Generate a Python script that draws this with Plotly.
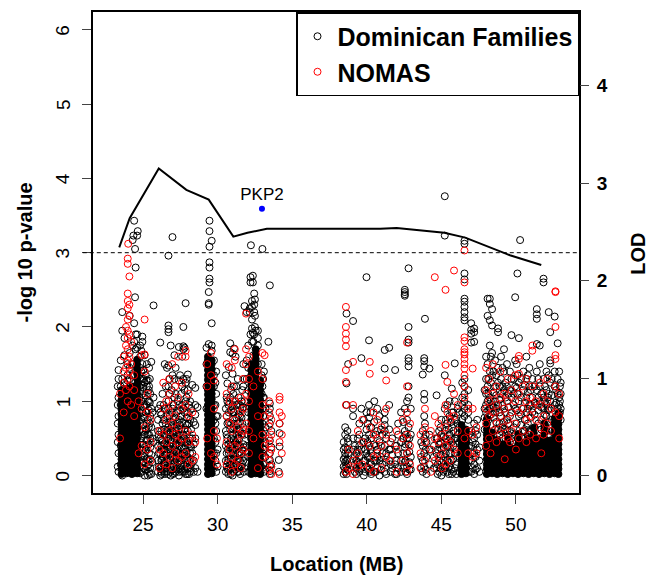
import plotly.graph_objects as go

# ---------------- data (x = location in MB, y = -log10 p) ----------------
DOM_COLS = [
    "23.3: 0.12 0.45 0.7 0.95 1.2",
    "23.35: 0.05 0.3 0.55 0.8 1.05 1.3 1.42", "23.5: 1.55 1.2 0.95 0.4 0.15",
    "23.6: 2.2 1.95 1.3 1.1 0.7 0.0", "23.75: 1.85 1.62 1.25", "23.95: 1.5 1.35 1.28",
    "24.1: 2.15 1.65 1.45 1.3", "24.3: 3.17 1.75 1.5 1.35", "24.35: 3.23", "24.4: 3.43 2.05 1.8",
    "24.46: 3.05 2.4", "24.5: 2.8 1.9 1.7", "24.6: 3.23 1.9 1.72", "24.64: 3.29",
    "24.75: 1.35 1.2 1.05 0.85 0.6 0.35 0.12",
    "24.8: 1.75 1.6 1.45 1.3 1.15 0.95 0.7 0.45 0.2 0.03",
    "24.88: 1.68 1.4 1.22 1.0 0.75 0.5 0.25 0.05",
    "24.95: 1.87 1.8 1.5 1.3 1.1 0.85 0.6 0.35 0.1",
    "25.02: 1.42 1.18 0.92 0.68 0.42 0.18", "25.05: 1.3 1.05 0.8 0.55 0.3 0.1",
    "25.1: 1.62 1.25 0.95 0.78 0.55 0.25 0.0",
    "25.18: 1.35 1.08 0.85 0.6 0.35 0.08", "25.22: 1.28 0.95 0.62 0.4 0.22",
    "25.25: 1.5 1.2 0.7 0.48 0.12", "25.32: 1.28 1.0 0.75 0.55 0.2 0.0",
    "25.38: 1.15 0.88 0.65 0.42 0.15",
    "25.4: 1.45 1.2 1.0 0.55 0.3 0.05", "25.45: 1.3 0.98 0.7 0.22 0.02",
    "25.48: 1.1 0.8 0.5 0.38 0.1",
    "25.55: 1.53 0.9 0.65 0.28 0.02", "25.62: 0.85 0.5 0.18", "25.7: 2.29 1.05 0.45",
    "26.0: 0.05 0.2 0.4 0.6 0.75", "26.05: 0.9 0.55 0.3 0.12",
    "26.15: 1.79 0.95 0.85 0.5 0.3 0.1 0.0", "26.22: 0.82 0.6 0.4 0.2 0.05",
    "26.25: 0.02 0.12 0.22 0.35 0.48",
    "26.3: 1.1 0.7 0.45 0.25 0.08", "26.38: 0.95 0.75 0.55 0.35 0.15",
    "26.42: 0.05 0.18 0.28 0.42 0.62",
    "26.45: 1.5 0.9 0.55 0.35 0.15 0.02", "26.52: 1.2 0.7 0.45 0.28 0.1",
    "26.58: 0.1 0.3 0.52",
    "26.6: 1.45 0.8 0.6 0.4 0.22 0.05", "26.68: 0.9 0.65 0.5 0.35 0.18 0.02",
    "26.7: 2.96 2.02 1.97 1.93 1.48 1.2 1.0", "26.78: 1.3 1.1 0.8 0.55 0.4",
    "26.82: 0.05 0.2 0.35 0.58",
    "26.85: 1.75 0.72 0.48 0.3 0.12 0.0", "26.92: 1.15 0.85 0.65 0.45 0.25 0.08",
    "26.97: 3.21 1.35 0.9 0.6", "27.0: 0.02 0.15 0.25 0.4 0.68",
    "27.05: 0.95 0.75 0.55 0.3 0.12",
    "27.1: 1.62 1.3 1.05 0.5 0.35 0.18 0.03", "27.18: 1.45 1.1 0.78 0.6 0.4 0.22 0.05",
    "27.22: 0.08 0.32 0.5",
    "27.25: 0.85 0.65 0.42 0.25 0.1", "27.32: 1.0 0.72 0.52 0.35 0.15",
    "27.4: 1.73 1.28 0.95 0.75 0.55 0.3 0.0", "27.42: 0.05 0.2 0.4 0.62",
    "27.48: 1.35 0.88 0.68 0.48 0.25 0.1",
    "27.55: 1.1 0.8 0.62 0.45 0.2 0.08", "27.58: 0.12 0.28 0.38",
    "27.62: 1.6 1.2 0.95 0.72 0.5 0.3 0.05",
    "27.7: 2.0 1.74 1.7 1.3 0.9 0.55 0.35 0.15", "27.75: 0.05 0.3 0.5",
    "27.78: 1.72 1.15 0.85 0.62 0.45 0.22 0.08",
    "27.85: 2.32 1.25 1.0 0.7 0.4 0.02", "27.92: 1.3 1.05 0.78 0.55 0.32 0.12",
    "27.95: 0.02 0.2 0.45 0.68",
    "28.0: 1.36 1.15 0.85 0.6 0.25 0.1", "28.08: 0.95 0.7 0.42 0.2 0.02",
    "28.15: 1.0 0.75 0.5 0.3 0.05", "28.18: 0.1 0.22 0.4",
    "28.22: 0.9 0.62 0.38 0.15", "28.3: 1.22 0.5 0.3",
    "28.4: 0.72 0.42 0.2 0.05", "28.5: 1.18 0.95 0.82 0.68 0.5 0.1", "28.65: 0.92 0.05",
    "29.25: 1.72 1.5 1.2 0.9", "29.4: 2.47 2.32 2.3 1.77",
    "29.45: 3.43 3.29 3.08 2.87 2.8 2.65 2.6", "29.6: 3.16 2.05 1.75 1.68",
    "29.75: 1.55 1.35 1.2 0.95 0.75 0.5 0.3 0.1", "29.85: 1.25 0.95 0.7 0.45 0.2",
    "29.9: 1.4 1.1 0.8 0.6 0.3 0.05", "30.0: 0.8 0.35 0.12",
    "30.55: 1.35 0.9 0.6 0.4 0.2 0.05", "30.6: 1.05 0.8 0.55 0.3 0.12",
    "30.65: 1.24 1.0 0.7 0.5", "30.68: 0.08 0.18 0.35",
    "30.72: 0.95 0.72 0.42 0.22 0.02", "30.75: 1.46 0.85 0.3 0.1",
    "30.84: 1.78 1.66 1.05 0.62 0.45 0.15", "30.88: 0.02 0.22 0.4",
    "30.9: 1.15 0.88 0.7 0.5 0.3 0.1",
    "31.0: 1.64 1.37 0.95 0.75 0.55 0.35 0.2 0.0", "31.05: 1.1 0.85 0.62 0.42 0.22 0.05",
    "31.08: 0.12 0.3 0.48",
    "31.1: 1.71 1.2 0.85 0.65", "31.2: 1.6 1.0 0.45 0.25 0.08",
    "31.25: 1.2 0.95 0.78 0.6 0.35 0.15", "31.3: 0.05 0.2 0.4 0.55",
    "31.35: 1.3 0.95 0.88 0.7 0.5 0.3 0.12", "31.4: 1.05 0.82 0.62 0.4 0.22 0.05",
    "31.45: 0.1 0.3 0.5",
    "31.5: 0.95 0.8 0.72 0.6 0.4 0.2 0.02", "31.6: 1.0 0.78 0.55 0.3 0.12",
    "31.65: 1.15 0.9 0.7 0.35 0.15", "31.72: 1.5 1.2 0.92 0.65 0.42 0.2",
    "31.75: 0.05 0.25 0.38",
    "31.8: 2.28 1.3 1.0 0.55 0.1",
    "31.95: 2.2 1.55 1.3 0.9 0.4", "32.05: 1.75 1.45 1.15 0.85 0.55 0.25 0.05",
    "32.15: 2.25 2.2", "32.2: 2.67 2.6 1.9", "32.23: 3.10",
    "32.3: 2.35 2.27 2.1 1.98 1.8", "32.36: 2.69 2.6 1.92", "32.4: 1.8 1.62",
    "32.45: 2.45 2.3 2.2 1.9", "32.5: 2.37 2.15 2.0", "32.55: 1.95", "32.7: 1.95 1.85 1.75 1.5",
    "32.95: 1.5 1.35 1.1", "33.0: 3.05 1.2 0.9 0.7 0.5 0.3 0.1",
    "33.05: 1.3 1.05 0.8 0.55 0.35 0.15",
    "33.1: 1.4 1.05 0.6 0.35 0.05", "33.2: 0.9 0.65 0.45 0.25 0.08",
    "33.4: 1.8", "33.5: 2.56 0.97 0.9 0.8 0.7 0.47 0.3 0.21 0.13 0.06 0.02",
    "33.6: 0.6 0.38 0.15", "34.1: 0.21 0.05", "34.15: 0.7 0.57 0.39",
    "38.45: 0.02 0.12 0.22 0.35 0.45",
    "38.55: 0.05 0.1 0.18 0.25 0.3 0.38 0.55 0.65", "38.64: 2.18 1.24 0.95 0.2 0.12 0.02",
    "38.7: 0.08 0.22 0.35 0.5 0.6",
    "38.75: 1.5 0.45 0.3 0.15", "39.08: 2.08 0.9 0.8 0.5 0.35", "39.2: 0.05 0.15 0.25 0.4",
    "39.3: 0.1 0.2 0.3 0.02", "39.4: 0.08 0.18 0.35 0.5",
    "39.5: 0.7 0.55 0.4 0.25 0.15 0.05", "39.64: 1.58 0.9 0.35 0.1", "39.8: 0.75 0.45 0.2 0.0",
    "39.9: 0.05 0.2 0.35 0.5",
    "39.98: 2.67 0.85 0.62 0.3 0.12", "40.05: 0.1 0.25 0.45 0.7",
    "40.15: 1.82 0.95 0.78 0.55 0.4 0.25 0.08", "40.25: 0.05 0.18 0.35 0.85",
    "40.3: 0.65 0.5 0.3 0.15 0.02", "40.5: 1.0 0.72 0.42 0.2 0.05", "40.6: 0.05 0.2 0.4 0.55",
    "40.7: 0.9 0.6 0.35 0.25 0.1", "40.85: 0.8 0.45 0.2 0.0", "40.95: 0.08 0.25 0.4 0.62",
    "41.05: 0.55 0.3 0.15",
    "41.2: 1.69 1.44 0.85 0.75 0.68 0.6 0.4 0.05", "41.3: 0.02 0.18 0.3 0.5",
    "41.5: 1.72 0.95 0.62 0.35 0.2", "41.6: 0.05 0.15 0.35",
    "41.7: 0.5 0.28 0.1", "41.9: 1.42 0.4 0.15 0.02", "42.0: 0.02 0.2 0.4",
    "42.1: 0.7 0.55 0.3 0.1",
    "42.3: 0.85 0.45 0.2 0.05", "42.45: 0.1 0.3 0.5 0.72",
    "42.55: 2.5 2.47 2.44 2.42 0.9 0.6 0.38 0.18", "42.6: 0.05 0.2 0.42 0.55",
    "42.7: 1.0 0.75 0.5 0.3 0.12 0.02",
    "42.8: 2.79 2.0 1.83 1.79 1.58 1.54 1.47 1.2 1.05 0.65 0.42",
    "42.85: 0.08 0.18 0.32 0.5", "42.95: 0.9 0.55 0.25 0.08",
    "43.65: 0.1 0.25 0.45",
    "43.75: 1.36 0.6 0.4 0.2 0.05", "43.85: 1.58 1.54 1.47 1.1 1.02 0.8 0.5 0.3 0.12",
    "43.9: 2.11 0.7", "43.95: 0.08 0.35 0.55",
    "44.0: 0.45 0.25 0.02", "44.2: 1.44 0.55 0.35 0.15", "44.5: 0.1 0.25 0.4",
    "44.68: 1.08 0.5 0.3 0.1", "44.75: 0.02 0.15 0.35 0.5",
    "44.85: 0.6 0.42 0.2 0.05", "44.95: 0.1 0.28 0.45 0.65",
    "45.0: 0.75 0.55 0.35 0.18 0.0", "45.15: 0.05 0.2 0.38 0.52",
    "45.23: 3.76 3.23 1.35 0.9 0.6 0.45 0.25 0.1", "45.3: 0.12 0.3 0.5 0.75",
    "45.4: 0.95 0.7 0.4 0.2 0.05", "45.5: 0.02 0.18 0.4 0.62",
    "45.55: 1.0 0.8 0.55 0.3 0.12", "45.65: 0.08 0.3 0.5 0.72",
    "45.7: 1.17 0.85 0.65 0.45 0.2 0.02", "45.8: 0.05 0.22 0.4 0.6 0.85",
    "45.9: 1.51 1.0 0.75 0.5 0.3 0.1", "46.0: 0.02 0.15 0.35 0.5 0.75",
    "46.1: 0.9 0.7 0.55", "46.2: 0.05 0.25 0.45 0.65 0.85",
    "46.55: 3.16 3.12 2.72 2.64 2.38 2.34 2.27 2.2 2.13 2.09 1.3 1.2 1.1 1.0 0.9 0.8",
    "46.4: 1.25 1.05 0.95 0.85 0.75", "46.8: 1.15 0.95 0.85 0.75",
    "46.85: 0.05 0.2 0.4 0.55",
    "47.0: 2.05 1.96 1.91 1.79 0.6 0.4 0.2 0.05", "47.1: 0.1 0.3 0.45",
    "47.2: 1.98 1.93 1.8 0.7 0.5 0.3 0.15 0.02", "47.3: 0.08 0.25 0.42 0.6",
    "47.4: 0.75 0.55 0.35 0.1", "47.55: 0.05 0.2 0.38",
    "47.9: 1.15 0.9 0.78 0.62",
    "48.0: 1.6 1.3 1.1 0.95 0.85", "48.1: 2.38 2.15 1.5 1.2 1.0", "48.15: 1.3 1.1 0.88 0.75",
    "48.25: 2.38 2.31 2.09 1.75 1.4 1.05 0.9", "48.32: 1.6 1.25 1.0 0.82",
    "48.4: 2.24 2.02 1.65 1.35 0.95", "48.5: 1.4 1.12 0.92 0.78",
    "48.6: 1.55 1.2 1.0 0.85 0.62", "48.68: 1.35 1.08 0.9 0.72",
    "48.8: 1.98 1.93 1.45 1.25 0.95 0.62", "48.9: 1.2 1.02 0.85 0.7 0.55",
    "49.0: 1.6 1.3 1.1 0.8 0.6", "49.1: 1.45 1.2 0.95 0.65 0.5",
    "49.2: 1.7 1.4 1.15 0.9 0.72", "49.3: 1.25 1.05 0.85 0.62 0.5",
    "49.4: 1.5 1.2 1.0 0.75 0.6", "49.5: 1.1 0.92 0.7 0.55", "49.6: 1.4 1.15 0.8 0.6 0.45",
    "49.7: 1.89 1.3 1.05 0.85 0.5", "49.85: 1.3 1.1 0.95 0.65 0.45",
    "49.95: 2.4 1.55 1.2 0.9 0.55", "50.05: 1.5 1.18 0.88 0.7",
    "50.1: 2.72 1.35 1.1", "50.2: 1.85 1.25 1.0 0.8", "50.28: 3.17",
    "50.35: 1.3 1.05 0.82 0.68 0.52", "50.5: 1.4 1.15 0.9 0.6", "50.6: 1.22 0.98 0.75 0.6 0.5",
    "50.7: 1.6 1.3 1.05 0.85 0.65", "50.8: 1.35 1.12 0.9 0.7 0.55",
    "50.9: 1.45 1.2 0.95 0.6", "51.0: 1.15 0.95 0.78 0.6", "51.1: 1.3 1.05 0.85",
    "51.25: 1.2 0.98 0.82 0.65",
    "51.4: 2.24 2.17 2.11 1.77 1.4 1.15 0.95", "51.5: 1.3 1.05 0.88 0.7",
    "51.6: 1.75 1.5 1.2 1.0", "51.7: 1.1 0.92 0.75 0.62",
    "51.85: 2.65 2.6 1.3 1.05 0.9", "51.95: 1.2 1.0 0.82 0.68",
    "52.05: 1.4 1.15 0.95 0.8 0.6", "52.15: 1.05 0.88 0.72 0.55", "52.2: 2.2 1.35 1.1 0.9",
    "52.3: 1.93 1.55 1.51 1.25 1.0", "52.4: 1.3 1.08 0.9 0.75 0.6",
    "52.6: 2.14 1.4 1.2 0.95", "52.7: 1.15 0.98 0.8", "52.8: 1.78 1.3 1.1 0.9",
    "52.9: 1.4 1.05 0.95 0.82", "52.95: 1.2 1.0 0.85", "53.0: 1.25 1.1 0.9 0.75",
]

# densest parts of the Dominican SNP columns (points overlap into solid black)
DOM_DENSE_COLS = [
    "23.55: 0.02 0.09 0.15 0.22 0.29 0.35 0.42 0.49 0.55 0.62 0.69 0.75 0.82 0.89 0.95 1.02 1.09 1.15",
    "23.9: 0.03 0.1 0.17 0.23 0.3 0.37 0.43 0.5 0.57 0.63 0.7 0.77 0.83 0.9 0.97 1.03 1.1 1.17",
    "24.25: 0.02 0.09 0.15 0.22 0.29 0.35 0.42 0.49 0.55 0.62 0.69 0.75 0.82 0.89 0.95 1.02 1.09 1.15 1.2",
    "24.6: 0.03 0.1 0.17 0.23 0.3 0.37 0.43 0.5 0.57 0.63 0.7 0.77 0.83 0.9 0.97 1.03 1.1 1.17 1.23 1.3 1.37 1.43 1.5 1.56",
    "29.35: 0.02 0.09 0.15 0.22 0.29 0.35 0.42 0.49 0.55 0.62 0.69 0.75 0.82 0.89 0.95 1.02 1.09 1.15 1.22 1.29 1.35 1.42 1.49 1.55 1.6",
    "29.6: 0.03 0.1 0.17 0.23 0.3 0.37 0.43 0.5 0.57 0.63 0.7 0.77 0.83 0.9 0.97 1.03 1.1 1.17 1.23 1.3 1.37 1.43 1.5 1.55",
    "32.25: 0.02 0.09 0.15 0.22 0.29 0.35 0.42 0.49 0.55 0.62 0.69 0.75 0.82 0.89 0.95 1.02 1.09 1.15 1.22 1.29 1.35 1.42 1.5",
    "32.55: 0.03 0.1 0.17 0.23 0.3 0.37 0.43 0.5 0.57 0.63 0.7 0.77 0.83 0.9 0.97 1.03 1.1 1.17 1.23 1.3 1.37 1.43 1.5 1.57 1.63 1.7",
    "32.85: 0.02 0.09 0.15 0.22 0.29 0.35 0.42 0.49 0.55 0.62 0.69 0.75 0.82 0.89 0.95 1.02 1.09 1.15 1.22 1.28",
    "46.35: 0.02 0.09 0.15 0.22 0.29 0.35 0.42 0.49 0.55 0.62 0.68",
    "46.65: 0.03 0.1 0.17 0.23 0.3 0.37 0.43 0.5 0.57 0.62",
    "48.05: 0.02 0.09 0.15 0.22 0.29 0.35 0.42 0.49 0.55 0.62 0.69 0.76",
    "48.4: 0.03 0.1 0.17 0.23 0.3 0.37 0.43 0.5 0.58",
    "48.75: 0.02 0.09 0.15 0.22 0.29 0.35 0.42 0.48",
    "49.1: 0.03 0.1 0.17 0.23 0.3 0.37 0.42",
    "49.45: 0.02 0.09 0.15 0.22 0.29 0.35 0.42 0.5",
    "49.8: 0.03 0.1 0.17 0.23 0.3 0.36",
    "50.15: 0.02 0.09 0.15 0.22 0.29 0.35 0.42 0.49 0.56",
    "50.5: 0.03 0.1 0.17 0.23 0.3 0.37 0.44",
    "50.85: 0.02 0.09 0.15 0.22 0.29 0.35 0.42 0.5",
    "51.2: 0.03 0.1 0.17 0.23 0.3 0.37 0.43 0.5 0.57 0.64",
    "51.55: 0.02 0.09 0.15 0.22 0.29 0.35 0.42 0.5",
    "51.9: 0.03 0.1 0.17 0.23 0.3 0.37 0.43 0.5 0.57 0.63 0.7",
    "52.25: 0.02 0.09 0.15 0.22 0.29 0.35 0.42 0.47",
    "52.6: 0.03 0.1 0.17 0.23 0.3 0.37 0.43 0.5 0.57 0.63 0.7 0.77",
    "52.85: 0.02 0.09 0.15 0.22 0.29 0.35 0.42 0.49 0.55 0.62 0.69 0.76 0.84",
]

NOMAS_COLS = [
    "23.45: 1.1 0.5", "23.7: 1.6 1.4 1.25 0.85",
    "23.85: 2.0 1.75 1.45 1.15",
    "23.97: 2.92 2.85 2.45 2.35 2.25 2.1 1.95 1.85 1.7 1.55 1.3 1.0",
    "24.0: 3.12", "24.08: 2.68 2.3 2.15 1.9 1.6 1.4 1.2", "24.2: 1.8 1.5 0.95",
    "24.4: 1.35 1.15 0.8", "24.7: 1.0 0.3", "24.9: 1.62 0.9 0.4",
    "25.1: 2.1 1.63 1.4 0.65 0.15", "25.3: 1.1 0.85 0.35", "25.5: 0.75 0.45 0.2",
    "26.1: 0.6 0.35 0.1", "26.35: 1.25 0.9 0.55 0.3", "26.55: 1.0 0.75 0.45 0.15",
    "26.75: 1.3 1.1 0.85 0.6 0.25", "26.95: 1.5 0.95 0.7 0.4 0.1", "27.15: 1.2 0.8 0.55 0.3",
    "27.35: 1.6 1.05 0.65 0.45 0.2", "27.6: 1.25 0.9 0.5 0.25", "27.85: 1.68 1.6 0.95 0.6 0.3",
    "28.05: 1.1 0.8 0.45 0.15", "28.3: 0.85 0.55 0.2", "28.5: 0.45 0.25",
    "29.3: 1.5 1.2 0.5", "29.55: 1.65 1.35 0.3",
    "29.75: 1.28 0.9 0.6 0.25", "29.95: 0.5 0.15",
    "30.6: 1.5 1.1 0.8 0.45 0.15", "30.8: 1.0 0.7 0.35", "30.95: 1.45 1.2 0.9 0.6 0.25 0.05",
    "31.15: 1.7 1.55 1.0 0.75 0.4 0.15", "31.35: 0.65 0.45 0.2", "31.55: 1.05 0.85 0.55 0.3 0.1",
    "31.7: 1.3 0.9 0.6 0.35", "31.9: 2.18 1.7 1.5 1.1 0.7",
    "32.1: 1.6 1.3 1.0 0.6 0.3", "32.4: 1.2 0.5", "32.7: 1.4 0.8 0.1",
    "33.0: 1.65 1.3 0.95 0.55 0.25", "33.15: 1.62 0.8 0.4",
    "33.45: 1.0 0.85 0.66 0.5 0.43 0.3 0.2 0.08", "33.6: 0.75 0.55 0.35 0.12 0.02",
    "34.15: 1.06 1.02 0.85 0.7 0.45 0.02", "34.3: 0.8 0.55 0.3",
    "38.6: 2.27 2.0 1.91 1.83 1.74 1.42 1.26 0.95 0.05", "38.8: 0.35 0.1",
    "39.08: 1.53 0.95 0.2 0.02", "39.4: 0.6 0.3 0.12", "39.7: 0.75 0.45 0.15",
    "40.2: 1.53 1.37 0.65 0.4 0.1", "40.45: 0.85 0.55 0.25 0.05", "40.7: 0.75 0.5 0.3",
    "41.0: 0.65 0.4 0.1", "41.3: 1.28 0.9 0.55 0.25", "41.6: 0.45 0.2", "42.0: 0.6 0.35 0.05",
    "42.4: 0.75 0.5 0.2", "42.7: 1.79 1.2 0.85 0.55 0.3 0.05", "42.9: 0.7 0.4 0.15",
    "43.6: 0.55 0.3 0.1", "43.9: 0.9 0.65 0.45 0.2", "44.3: 0.6 0.35 0.05",
    "44.56: 2.67 0.8 0.5 0.2", "44.8: 0.7 0.45 0.25", "45.05: 0.55 0.3 0.1",
    "45.28: 2.5 1.49 0.95 0.65 0.4 0.15", "45.4: 1.26 0.85 0.5", "45.6: 0.75 0.45 0.2",
    "45.85: 2.76 1.1 0.8 0.35", "46.1: 0.95 0.6 0.3",
    "46.55: 3.03 2.6 1.86 1.81 1.7 1.66 1.63 1.57 1.5 1.44 1.35 1.2 1.05 0.5",
    "46.8: 0.9 0.6 0.3", "47.1: 1.44 0.9 0.55 0.25", "47.35: 0.65 0.3",
    "48.0: 1.45 1.15 0.9 0.7 0.4", "48.2: 1.3 1.0 0.8 0.5",
    "48.3: 0.3",
    "48.45: 1.5 1.1 0.85 0.6", "48.7: 1.2 0.95 0.7 0.45",
    "48.95: 1.4 1.05 0.8 0.55", "49.2: 1.1 0.9 0.65", "49.25: 0.22",
    "49.45: 1.3 1.0 0.75 0.5", "49.6: 0.45",
    "49.7: 1.15 0.85 0.6", "49.95: 1.35 1.0 0.7", "50.0: 0.35",
    "50.2: 1.61 1.57 1.37 1.1 0.85 0.5", "50.45: 1.2 0.9 0.6",
    "50.7: 1.3 1.0 0.75 0.45", "50.95: 1.05 0.8 0.55", "51.1: 1.75 1.68 1.2 0.9",
    "51.35: 1.0 0.75 0.5", "51.6: 1.25 0.95 0.65", "51.7: 0.3", "51.85: 1.1 0.8 0.55",
    "52.1: 1.3 1.0 0.7", "52.35: 0.9 0.6",
    "52.65: 2.48 2.47 2.0 1.62 1.57 1.2 0.85", "52.9: 1.1 0.8 0.5",
]

# LOD linkage curve (LOD units, right axis)
LOD_X = [23.4, 24.1, 26.05, 27.9, 29.4, 31.05, 32.0, 33.3, 36.0, 40.9, 42.0, 45.2, 46.6, 49.6, 51.7]
LOD_Y = [2.34, 2.64, 3.15, 2.93, 2.83, 2.45, 2.49, 2.53, 2.53, 2.53, 2.54, 2.49, 2.44, 2.26, 2.16]

PKP2_X = [32.97]
PKP2_Y = [3.59]

X_TICKS = [25, 30, 35, 40, 45, 50]
Y_TICKS = [0, 1, 2, 3, 4, 5, 6]
LOD_TICKS = [0, 1, 2, 3, 4]
THRESHOLD = 3
LOD_RATIO = 1.3125  # -log10 p units per LOD unit on the plot


def flatten(cols):
    xs, ys = [], []
    for c in cols:
        x, vals = c.split(":")
        for v in vals.split():
            xs.append(float(x))
            ys.append(float(v))
    return xs, ys


dx, dy = flatten(DOM_COLS)
cx, cy = flatten(DOM_DENSE_COLS)
nx, ny = flatten(NOMAS_COLS)

FONT = "Liberation Sans, Arial, sans-serif"
YR = [-0.235, 6.24]

fig = go.Figure()
fig.add_trace(go.Scatter(x=dx, y=dy, mode="markers", name="Dominican Families",
                         marker=dict(symbol="circle-open", size=7, color="black",
                                     line=dict(color="black", width=1))))
fig.add_trace(go.Scatter(x=cx, y=cy, mode="markers", showlegend=False, hoverinfo="skip",
                         marker=dict(symbol="circle", size=7, color="black",
                                     line=dict(color="black", width=1))))
fig.add_trace(go.Scatter(x=nx, y=ny, mode="markers", name="NOMAS",
                         marker=dict(symbol="circle-open", size=7, color="#FF0000",
                                     line=dict(color="#FF0000", width=1))))
fig.add_trace(go.Scatter(x=LOD_X, y=LOD_Y, mode="lines", yaxis="y2", showlegend=False,
                         line=dict(color="black", width=2)))
fig.add_trace(go.Scatter(x=PKP2_X, y=PKP2_Y, mode="markers+text", text=["PKP2"],
                         textposition="top center", showlegend=False,
                         textfont=dict(family=FONT, size=17, color="black"),
                         marker=dict(symbol="circle", size=6, color="#0000FF")))

fig.add_shape(type="line", xref="paper", yref="y", x0=-0.021, x1=1, y0=THRESHOLD, y1=THRESHOLD,
              line=dict(color="black", width=1, dash="4px,3px"))

annotations = [
    dict(text="<b>Location (MB)</b>", xref="paper", yref="paper", x=0.5, y=-0.147,
         xanchor="center", yanchor="middle", showarrow=False, font=dict(size=20)),
    dict(text="<b>-log 10 p-value</b>", xref="paper", yref="paper", x=-0.14, y=0.5,
         xanchor="center", yanchor="middle", textangle=-90, showarrow=False, font=dict(size=20)),
    dict(text="<b>LOD</b>", xref="paper", yref="paper", x=1.121, y=0.497,
         xanchor="center", yanchor="middle", textangle=-90, showarrow=False, font=dict(size=20)),
]
for v in Y_TICKS:
    annotations.append(dict(text=str(v), xref="paper", yref="y", x=-0.062, y=v,
                            xanchor="center", yanchor="middle", textangle=-90,
                            showarrow=False, font=dict(size=19)))

fig.update_layout(
    width=649, height=568,
    margin=dict(l=85, r=78, t=2, b=83),
    paper_bgcolor="white", plot_bgcolor="white",
    font=dict(family=FONT, color="black"),
    xaxis=dict(range=[21.64, 54.23], tickvals=X_TICKS, ticks="outside", ticklen=9,
               showline=True, linecolor="black", linewidth=1.5, mirror=True,
               showgrid=False, zeroline=False, tickfont=dict(size=19),
               ticklabelstandoff=4),
    yaxis=dict(range=YR, tickvals=Y_TICKS, ticks="outside", ticklen=9, showticklabels=False,
               showline=True, linecolor="black", linewidth=1.5, mirror=True,
               showgrid=False, zeroline=False),
    yaxis2=dict(range=[YR[0] / LOD_RATIO, YR[1] / LOD_RATIO], overlaying="y", side="right",
                tickvals=LOD_TICKS, ticks="outside", ticklen=9, showgrid=False,
                zeroline=False, showline=False,
                tickfont=dict(size=19, weight="bold"), ticklabelstandoff=4),
    legend=dict(x=1, xanchor="right", y=1, yanchor="top", bgcolor="white",
                bordercolor="black", borderwidth=1.5,
                font=dict(size=25, weight="bold", family=FONT)),
    annotations=annotations,
)

fig.write_html("out.html")
